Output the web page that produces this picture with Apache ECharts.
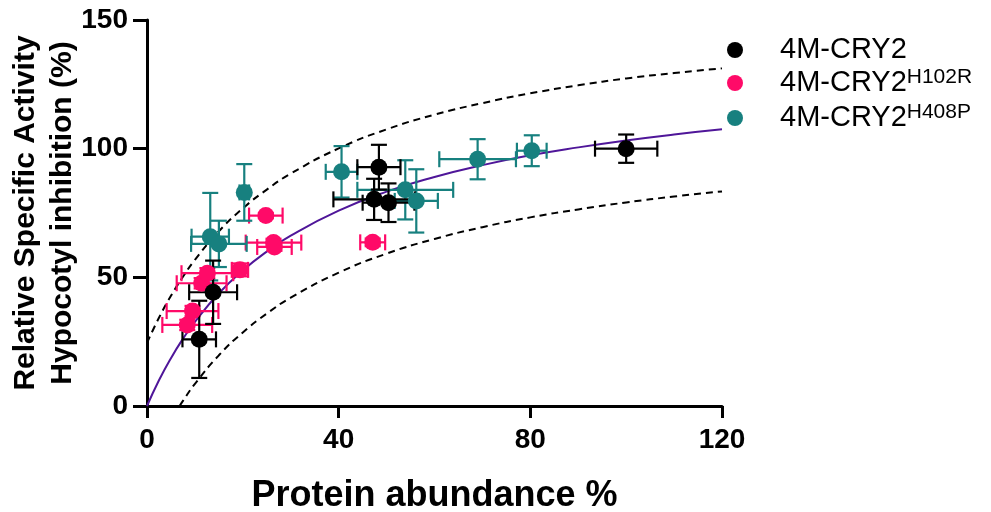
<!DOCTYPE html>
<html>
<head>
<meta charset="utf-8">
<script src="https://cdn.jsdelivr.net/npm/echarts@6/dist/echarts.min.js"></script>
<style>
  html, body { margin: 0; padding: 0; background: #fff; }
  #chart { width: 991px; height: 512px; }
</style>
</head>
<body>
<div id="chart"></div>
<script>
// 4M-CRY2 (black)
const wtX = [10.9, 13.8, 47.4, 48.4, 50.4, 100];
const wtY = [25.9, 44.2, 80.3, 92.8, 79.0, 100];
const wtXErr = [3.5, 5.0, 8.5, 4.5, 5.4, 6.5];
const wtYErr = [15, 12.3, 8, 8.7, 7.5, 5.5];

// 4M-CRY2 H102R (pink)
const h102X = [8.4, 9.5, 11.4, 12.6, 19.4, 24.8, 26.4, 26.6, 47.1];
const h102Y = [31.5, 36.9, 47.7, 51.6, 52.9, 74.0, 63.5, 61.8, 63.6];
const h102XErr = [5.2, 5.4, 5.2, 5.4, 1.7, 3.5, 5.8, 3.6, 2.6];
const h102YErr = [2, 2, 2, 2, 2.5, 1, 1.5, 1.5, 1.5];

// 4M-CRY2 H408P (teal)
const h408X = [13.2, 15.0, 20.3, 40.6, 53.9, 56.2, 69.0, 80.3];
const h408Y = [65.8, 63.0, 83.0, 91.0, 84.0, 79.7, 95.9, 99.2];
const h408XErr = [3.9, 5.8, 1, 3.3, 10, 4.5, 8, 3.1];
const h408YErr = [17, 9, 11, 10, 11.5, 12.3, 7.8, 6];

// fit curve and band
const fitX = [0, 2.5, 5, 7.5, 10, 15, 20, 25, 30, 40, 50, 60, 70, 80, 90, 100, 110, 120];
const fitY = [0, 10, 18.6, 26.1, 32.7, 43.8, 52.7, 60, 66.2, 75.9, 83.3, 89.0, 93.6, 97.4, 100.5, 103.2, 105.5, 107.5];
const upperY = [24.5, 34.3, 42.8, 50.2, 56.8, 67.9, 76.8, 84.1, 90.3, 100.1, 107.5, 113.2, 117.7, 121.5, 124.6, 127.3, 129.4, 131.2];
const lowerX = [6.8, 7.5, 10, 15, 20, 25, 30, 40, 50, 60, 70, 80, 90, 100, 110, 120];
const lowerY = [0, 2.0, 8.6, 19.7, 28.6, 35.9, 42.1, 51.8, 59.2, 64.9, 69.5, 73.3, 76.4, 79.1, 81.4, 83.4];

const xTicks = [0, 40, 80, 120];
const yTicks = [0, 50, 100, 150];

const FONT = 'Liberation Sans, Arial, sans-serif';
const zip = (...arrs) => arrs[0].map((_, i) => arrs.map(a => a[i]));

function errorBars(name, color, xs, ys, xe, ye) {
  return {
    name: name,
    type: 'custom',
    silent: true,
    data: zip(xs, ys, xe, ye),
    renderItem: (params, api) => {
      const x = api.value(0), y = api.value(1), dx = api.value(2), dy = api.value(3);
      const c = api.coord([x, y]);
      const l = api.coord([x - dx, y]);
      const r = api.coord([x + dx, y]);
      const t = api.coord([x, y + dy]);
      const b = api.coord([x, y - dy]);
      const cap = 8;
      const st = { stroke: color, lineWidth: 2.2 };
      const line = (x1, y1, x2, y2) => ({ type: 'line', shape: { x1, y1, x2, y2 }, style: st });
      return {
        type: 'group',
        children: [
          line(l[0], c[1], r[0], c[1]),
          line(l[0], c[1] - cap, l[0], c[1] + cap),
          line(r[0], c[1] - cap, r[0], c[1] + cap),
          line(c[0], t[1], c[0], b[1]),
          line(c[0] - cap, t[1], c[0] + cap, t[1]),
          line(c[0] - cap, b[1], c[0] + cap, b[1])
        ]
      };
    },
    z: 3
  };
}

function points(name, color, xs, ys) {
  return {
    name: name,
    type: 'scatter',
    symbol: 'circle',
    symbolSize: 17,
    itemStyle: { color: color, opacity: 1 },
    data: zip(xs, ys),
    z: 4
  };
}

const BLACK = '#000000', PINK = '#ff0a68', TEAL = '#17807f', PURPLE = '#4f1699';

const legendBase = {
  orient: 'vertical',
  left: 727,
  padding: 0,
  itemWidth: 16,
  itemHeight: 16,
  icon: 'circle',
  textStyle: {
    fontFamily: FONT, fontSize: 29, color: '#000', lineHeight: 32,
    padding: [0, 0, 0, 32],
    rich: {
      m: { fontFamily: FONT, fontSize: 29, color: '#000', lineHeight: 32 },
      s: { fontFamily: FONT, fontSize: 21, color: '#000', verticalAlign: 'top', lineHeight: 22 }
    }
  }
};

const chart = echarts.init(document.getElementById('chart'));
chart.setOption({
  animation: false,
  backgroundColor: '#fff',
  grid: { left: 147, right: 269, top: 20, bottom: 106, containLabel: false, outerBoundsMode: 'none' },
  legend: [
    Object.assign({}, legendBase, { top: 34, data: ['4M-CRY2'], formatter: () => '{m|4M-CRY2}' }),
    Object.assign({}, legendBase, { top: 67, data: ['4M-CRY2 H102R'], formatter: () => '{m|4M-CRY2}{s|H102R}' }),
    Object.assign({}, legendBase, { top: 102, data: ['4M-CRY2 H408P'], formatter: () => '{m|4M-CRY2}{s|H408P}' })
  ],
  xAxis: {
    type: 'value',
    min: xTicks[0],
    max: xTicks[xTicks.length - 1],
    interval: 40,
    name: 'Protein abundance %',
    nameLocation: 'middle',
    nameGap: 72,
    nameMoveOverlap: false,
    nameTextStyle: { fontFamily: FONT, fontWeight: 'bold', fontSize: 36, color: '#000' },
    axisLine: { lineStyle: { color: '#000', width: 3 } },
    axisTick: { length: 12, lineStyle: { color: '#000', width: 3 } },
    axisLabel: { fontFamily: FONT, fontWeight: 'bold', fontSize: 28, color: '#000', margin: 20 },
    splitLine: { show: false }
  },
  yAxis: {
    type: 'value',
    min: yTicks[0],
    max: yTicks[yTicks.length - 1],
    interval: 50,
    name: 'Relative Specific Activity\nHypocotyl inhibition (%)',
    nameLocation: 'middle',
    nameGap: 66,
    nameMoveOverlap: false,
    nameTextStyle: { fontFamily: FONT, fontWeight: 'bold', fontSize: 30, color: '#000', lineHeight: 37 },
    axisLine: { show: true, lineStyle: { color: '#000', width: 3 } },
    axisTick: { show: true, length: 14, lineStyle: { color: '#000', width: 3 } },
    axisLabel: { fontFamily: FONT, fontWeight: 'bold', fontSize: 28, color: '#000', margin: 19 },
    splitLine: { show: false }
  },
  series: [
    {
      name: 'upper', type: 'line', data: zip(fitX, upperY), smooth: true, symbol: 'none', silent: true,
      lineStyle: { color: '#000', width: 2, type: [7, 5] }, z: 2
    },
    {
      name: 'lower', type: 'line', data: zip(lowerX, lowerY), smooth: true, symbol: 'none', silent: true,
      lineStyle: { color: '#000', width: 2, type: [7, 5] }, z: 2
    },
    {
      name: 'fit', type: 'line', data: zip(fitX, fitY), smooth: true, symbol: 'none', silent: true,
      lineStyle: { color: PURPLE, width: 2 }, z: 2
    },
    errorBars('h102 err', PINK, h102X, h102Y, h102XErr, h102YErr),
    points('4M-CRY2 H102R', PINK, h102X, h102Y),
    errorBars('h408 err', TEAL, h408X, h408Y, h408XErr, h408YErr),
    points('4M-CRY2 H408P', TEAL, h408X, h408Y),
    errorBars('wt err', BLACK, wtX, wtY, wtXErr, wtYErr),
    points('4M-CRY2', BLACK, wtX, wtY)
  ]
});
</script>
</body>
</html>
